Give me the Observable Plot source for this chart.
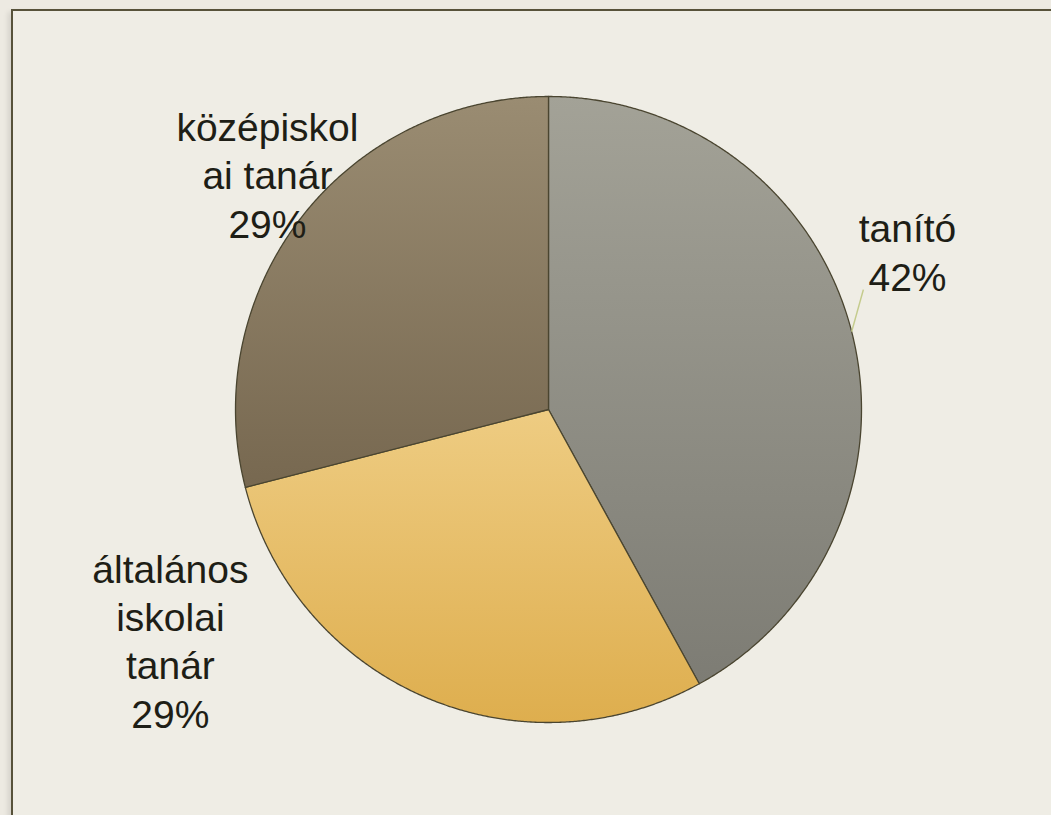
<!DOCTYPE html>
<html><head><meta charset="utf-8">
<script src="https://cdn.jsdelivr.net/npm/d3@7"></script>
<script src="https://cdn.jsdelivr.net/npm/@observablehq/plot@0.6"></script>
<style>
html,body{margin:0;padding:0;background:#EDEAE2;}
#wrap{position:relative;width:1051px;height:815px;overflow:hidden;}
#frame{position:absolute;left:11px;top:9px;width:1100px;height:900px;border-left:2px solid #57523A;border-top:2px solid #57523A;background:#EFEDE5;box-shadow:-3px 3px 5px rgba(0,0,0,0.10);}
#chart{position:absolute;left:0;top:0;}
</style></head><body><div id="wrap"><div id="frame"></div><div id="chart"></div></div>
<script>
// ---- data ----
const categories = ["tanító", "általános iskolai tanár", "középiskolai tanár"];
const labelLines = ["tanító", "általános\niskolai\ntanár", "középiskol\nai tanár"];
const values = [42, 29, 29];
const percentLabels = ["42%", "29%", "29%"];
const gradTop = ["#A3A297", "#EECC82", "#9A8C72"];
const gradBottom = ["#7D7C74", "#DEAE4E", "#776850"];

// ---- layout (unit circle coordinates) ----
const W = 1051, H = 815, R = 313, CX = 548, CY = 409;
const labelPos = [[1.147, 0.380], [-1.208, -1.016], [-0.898, 0.5495]];
const leaderEnd = [[1.006, 0.383], null, null];

const total = d3.sum(values);
let acc = 0;
const slices = values.map((v, i) => {
  const a0 = acc / total * 2 * Math.PI;
  acc += v;
  const a1 = acc / total * 2 * Math.PI;
  const n = Math.max(8, Math.ceil((a1 - a0) / 0.005));
  const pts = [{x: 0, y: 0}];
  for (let k = 0; k <= n; k++) {
    const a = a0 + (a1 - a0) * k / n;
    pts.push({x: Math.sin(a), y: Math.cos(a)});
  }
  pts.push({x: 0, y: 0});
  return {i, a0, a1, pts, mid: (a0 + a1) / 2};
});

const labels = categories.map((c, i) => ({
  text: labelLines[i] + "\n" + percentLabels[i],
  x: labelPos[i][0], y: labelPos[i][1]
}));
const leaders = slices.filter(s => leaderEnd[s.i]).map(s => ({
  x1: Math.sin(s.mid), y1: Math.cos(s.mid), x2: leaderEnd[s.i][0], y2: leaderEnd[s.i][1]
}));

const marks = [];
slices.forEach(s => {
  marks.push(Plot.line(s.pts, {x: "x", y: "y", fill: `url(#grad${s.i})`, stroke: "#4A4530", strokeWidth: 1.3, curve: "linear"}));
});
marks.push(Plot.link(leaders, {x1: "x1", y1: "y1", x2: "x2", y2: "y2", stroke: "#C4CB8C", strokeWidth: 1.5}));
marks.push(Plot.text(labels, {x: "x", y: "y", text: "text", textAnchor: "middle", lineAnchor: "bottom",
  fontSize: 39, lineHeight: 1.235, fill: "#1E1E16", fontFamily: "Liberation Sans, Arial, sans-serif"}));

const chart = Plot.plot({
  width: W, height: H,
  margin: 0,
  x: {domain: [-CX / R, (W - CX) / R], axis: null},
  y: {domain: [-(H - CY) / R, CY / R], axis: null},
  style: {background: "transparent", overflow: "visible"},
  marks
});

const ns = "http://www.w3.org/2000/svg";
const defs = document.createElementNS(ns, "defs");
gradTop.forEach((c, i) => {
  const g = document.createElementNS(ns, "linearGradient");
  g.setAttribute("id", "grad" + i);
  g.setAttribute("x1", "0"); g.setAttribute("y1", "0");
  g.setAttribute("x2", "0"); g.setAttribute("y2", "1");
  [[0, c], [1, gradBottom[i]]].forEach(([o, col]) => {
    const st = document.createElementNS(ns, "stop");
    st.setAttribute("offset", o);
    st.setAttribute("stop-color", col);
    g.appendChild(st);
  });
  defs.appendChild(g);
});
chart.insertBefore(defs, chart.firstChild);
document.getElementById("chart").appendChild(chart);
</script></body></html>
